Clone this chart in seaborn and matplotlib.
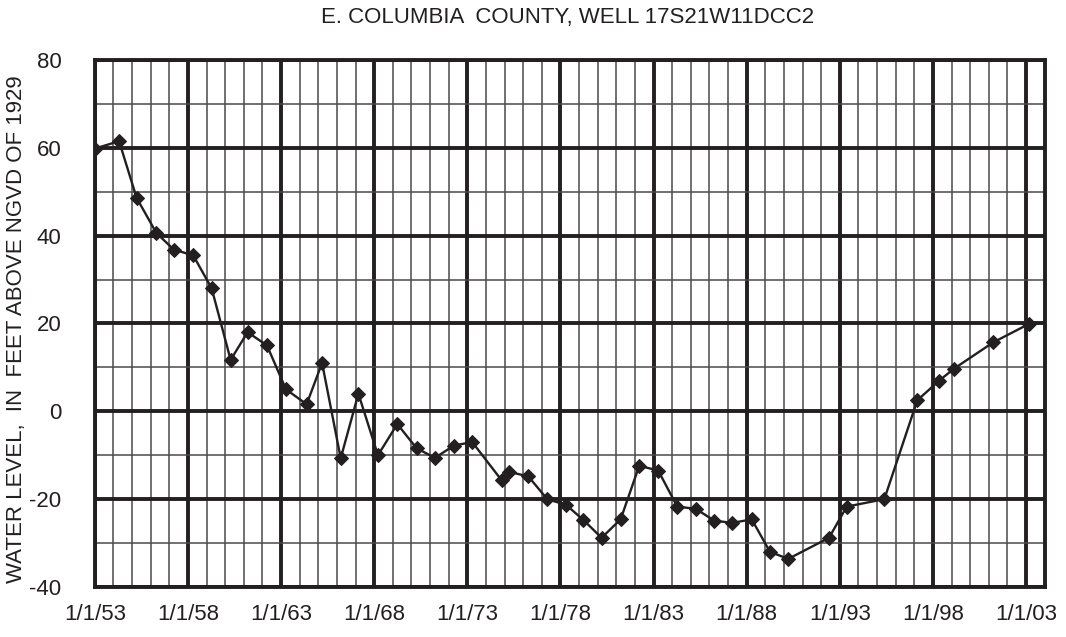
import numpy as np
import pandas as pd
import matplotlib
matplotlib.use('Agg')
import matplotlib.pyplot as plt
import seaborn as sns
from matplotlib.ticker import MultipleLocator, FixedLocator

# measurement dates as decimal years, water level in feet
years = [1953.0, 1954.3, 1955.24, 1956.3, 1957.24, 1958.28, 1959.27,
         1960.29, 1961.2, 1962.24, 1963.26, 1964.37, 1965.2, 1966.2, 1967.15,
         1968.2, 1969.24, 1970.27, 1971.26, 1972.28, 1973.26, 1974.84,
         1975.23, 1976.27, 1977.29, 1978.3, 1979.22, 1980.21, 1981.23,
         1982.23, 1983.25, 1984.27, 1985.26, 1986.26, 1987.23, 1988.27,
         1989.25, 1990.23, 1992.42, 1993.37, 1995.39, 1997.16, 1998.34,
         1999.13, 2001.24, 2003.16]
levels = [59.8, 61.5, 48.6, 40.6, 36.8, 35.5, 28.0,
          11.7, 18.0, 15.0, 5.0, 1.6, 11.0, -10.7, 4.0,
          -10.0, -2.9, -8.4, -10.6, -7.8, -7.0, -15.7,
          -13.8, -14.8, -20.0, -21.3, -24.7, -28.8, -24.6,
          -12.4, -13.5, -21.7, -22.2, -24.9, -25.4, -24.6,
          -32.0, -33.6, -28.8, -21.7, -20.0, 2.5, 7.0,
          9.7, 15.7, 19.9]

tick_years = [1953, 1958, 1963, 1968, 1973, 1978, 1983, 1988, 1993, 1998, 2003]
tick_labels = ['1/1/53', '1/1/58', '1/1/63', '1/1/68', '1/1/73', '1/1/78',
               '1/1/83', '1/1/88', '1/1/93', '1/1/98', '1/1/03']

df = pd.DataFrame({'year': years, 'level': levels})

sns.set_style('white')
plt.rcParams['font.family'] = ['Liberation Sans', 'DejaVu Sans']
plt.rcParams['axes.unicode_minus'] = False

fig = plt.figure(figsize=(10.66, 6.37), dpi=100)
ax = fig.add_axes([0.089, 0.0785, 0.891, 0.8275])

sns.lineplot(data=df, x='year', y='level', ax=ax, color='#231f20',
             linewidth=1.7, marker='D', markersize=7.5,
             markeredgecolor='#231f20', zorder=5)

ax.set_xlim(1953, 2004)
ax.set_ylim(-40, 80)

ax.xaxis.set_major_locator(FixedLocator(tick_years))
ax.set_xticklabels(tick_labels)
ax.xaxis.set_minor_locator(MultipleLocator(1))
ax.yaxis.set_major_locator(MultipleLocator(20))
ax.yaxis.set_minor_locator(MultipleLocator(10))

ax.grid(which='major', color='#231f20', linewidth=2.8, zorder=1)
ax.grid(which='minor', color='#4a4a4a', linewidth=1.1, zorder=1)
ax.set_axisbelow(True)

for s in ax.spines.values():
    s.set_visible(True)
    s.set_color('#231f20')
    s.set_linewidth(2.8)

ax.tick_params(axis='x', which='major', length=3, width=2.8, color='#231f20',
               labelsize=16, pad=9, labelcolor='#231f20')
ax.tick_params(axis='y', which='major', length=0, labelsize=16, pad=24,
               labelcolor='#231f20')
ax.tick_params(which='minor', length=0)

ax.set_xlabel('')
ax.set_ylabel('WATER LEVEL,  IN  FEET ABOVE NGVD OF 1929', fontsize=16,
              color='#231f20')
ax.yaxis.set_label_coords(-0.071, 0.49)
fig.text(0.532, 0.972, 'E. COLUMBIA  COUNTY, WELL 17S21W11DCC2', ha='center',
         va='center', fontsize=16, color='#231f20')

fig.savefig('out.png', dpi=100)
